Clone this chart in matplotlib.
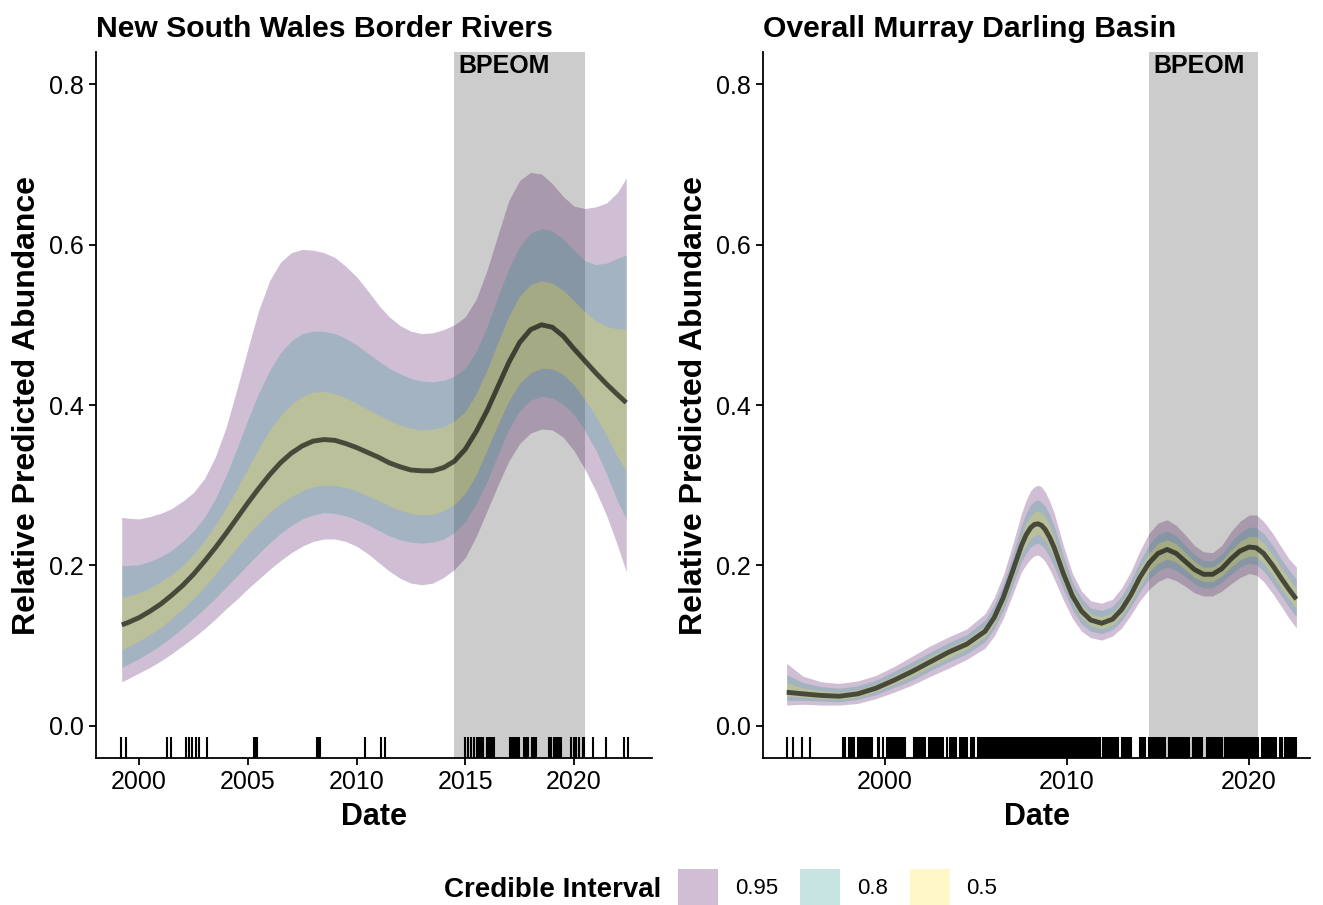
import numpy as np
import matplotlib
matplotlib.use("Agg")
import matplotlib.pyplot as plt
from matplotlib.patches import Patch
from matplotlib.transforms import blended_transform_factory

plt.rcParams['font.family'] = ['Liberation Sans', 'DejaVu Sans']

# -----------------------------
# NEW SOUTH WALES BORDER RIVERS
# -----------------------------
nsw_year = [1999.2, 1999.5, 2000, 2000.5, 2001, 2001.5, 2002, 2002.5, 2003, 2003.5,
            2004, 2004.5, 2005, 2005.5, 2006, 2006.5, 2007, 2007.5, 2008, 2008.5,
            2009, 2009.5, 2010, 2010.5, 2011, 2011.5, 2012, 2012.5, 2013, 2013.5,
            2014, 2014.5, 2015, 2015.5, 2016, 2016.5, 2017, 2017.5, 2018, 2018.5,
            2019, 2019.5, 2020, 2020.5, 2021, 2021.5, 2022, 2022.4]
nsw_med = [.126, .129, .135, .143, .152, .163, .175, .189, .205, .222,
           .240, .259, .278, .296, .313, .328, .340, .349, .355, .357,
           .356, .352, .347, .341, .335, .328, .323, .319, .318, .318,
           .322, .330, .345, .367, .393, .423, .453, .478, .494, .500,
           .497, .486, .470, .455, .440, .426, .413, .403]
nsw_hi95 = [.260, .259, .258, .261, .265, .271, .280, .291, .308, .335,
            .372, .420, .470, .518, .555, .578, .590, .594, .593, .590,
            .584, .573, .560, .543, .525, .510, .499, .492, .489, .490,
            .494, .500, .510, .532, .568, .612, .655, .680, .690, .688,
            .676, .660, .648, .645, .647, .652, .665, .683]
nsw_lo95 = [.055, .059, .066, .073, .081, .090, .100, .110, .121, .133,
            .146, .158, .171, .183, .195, .206, .216, .224, .230, .233,
            .233, .230, .224, .215, .204, .193, .184, .178, .176, .178,
            .185, .195, .210, .236, .268, .300, .330, .352, .365, .370,
            .369, .360, .343, .320, .293, .262, .225, .192]
nsw_hi80 = [.200, .200, .201, .205, .211, .219, .230, .243, .260, .283,
            .312, .346, .382, .415, .443, .465, .480, .489, .492, .492,
            .489, .483, .475, .465, .455, .446, .439, .433, .430, .429,
            .431, .436, .446, .467, .498, .535, .570, .598, .614, .620,
            .617, .607, .593, .580, .575, .577, .583, .587]
nsw_lo80 = [.073, .077, .084, .092, .101, .111, .122, .134, .146, .159,
            .173, .187, .201, .215, .228, .240, .250, .258, .263, .266,
            .265, .262, .257, .251, .244, .237, .232, .229, .228, .229,
            .233, .241, .255, .277, .305, .338, .370, .393, .406, .411,
            .409, .401, .388, .368, .344, .314, .280, .258]
nsw_hi50 = [.160, .162, .166, .172, .180, .189, .200, .214, .231, .250,
            .272, .296, .321, .346, .369, .387, .401, .411, .416, .417,
            .414, .409, .402, .395, .388, .381, .375, .371, .369, .370,
            .373, .380, .392, .414, .444, .478, .511, .536, .550, .555,
            .552, .543, .530, .516, .505, .498, .495, .495]
nsw_lo50 = [.095, .099, .106, .114, .123, .134, .146, .159, .173, .189,
            .206, .222, .238, .253, .266, .277, .286, .293, .298, .300,
            .300, .297, .293, .287, .281, .274, .269, .265, .263, .264,
            .268, .276, .290, .313, .344, .376, .405, .427, .440, .446,
            .445, .438, .425, .407, .386, .362, .335, .318]

# sampling dates (rug)
nsw_samples = [1999.17, 1999.42, 2001.29, 2001.46, 2002.14, 2002.29, 2002.43, 2002.60,
               2002.76, 2003.10, 2005.27, 2005.31, 2005.36, 2005.40, 2008.20, 2008.24,
               2008.29, 2008.33, 2010.37, 2011.12, 2011.29,
               2014.97, 2015.13, 2015.26, 2015.38, 2015.55, 2015.63, 2015.72, 2015.80,
               2016.02, 2016.10, 2016.18, 2016.26, 2016.30, 2017.06, 2017.14, 2017.22,
               2017.31, 2017.39, 2017.47, 2017.72, 2017.80, 2017.88, 2018.06, 2018.14,
               2018.23, 2018.83, 2018.90, 2018.96, 2019.10, 2019.18, 2019.26, 2019.34,
               2019.41, 2019.86, 2019.98, 2020.11, 2020.23, 2020.40, 2020.48,
               2020.85, 2021.45, 2022.29, 2022.46]

# -----------------------------
# OVERALL MURRAY DARLING BASIN
# -----------------------------
mdb_year = [1994.6, 1995.5, 1996.5, 1997.5, 1998.5, 1999.5, 2000.5, 2001.5, 2002.5, 2003.5,
            2004.5, 2005.5, 2006.0, 2006.5, 2007.0, 2007.5, 2007.75, 2008.0, 2008.2, 2008.4,
            2008.6, 2008.8, 2009.05, 2009.3, 2009.8, 2010.3, 2010.8, 2011.3, 2011.9, 2012.5,
            2013.0, 2013.5, 2014.0, 2014.5, 2015.0, 2015.5, 2016.0, 2016.5, 2017.0, 2017.5,
            2018.0, 2018.5, 2019.0, 2019.5, 2020.0, 2020.4, 2020.8, 2021.3, 2021.8, 2022.2,
            2022.6]
mdb_med = [.042, .040, .038, .037, .040, .047, .057, .068, .080, .092,
           .102, .118, .135, .160, .192, .225, .238, .247, .251, .252,
           .250, .245, .235, .222, .190, .162, .143, .132, .128, .133,
           .145, .163, .185, .203, .215, .220, .215, .205, .195, .189,
           .189, .196, .208, .218, .223, .222, .215, .200, .183, .170, .158]
mdb_hi95 = [.078, .062, .055, .053, .056, .063, .074, .087, .100, .111,
            .121, .140, .160, .188, .225, .265, .281, .293, .298, .300,
            .298, .292, .280, .265, .225, .190, .168, .156, .153, .158,
            .172, .192, .218, .240, .253, .257, .250, .238, .225, .217,
            .216, .225, .242, .255, .263, .263, .255, .240, .222, .208, .198]
mdb_lo95 = [.026, .027, .026, .026, .028, .034, .042, .051, .062, .072,
            .083, .097, .112, .134, .163, .192, .201, .208, .212, .213,
            .210, .205, .195, .183, .157, .134, .118, .110, .107, .112,
            .122, .138, .156, .170, .180, .185, .181, .174, .166, .162,
            .162, .168, .177, .185, .190, .188, .180, .165, .148, .134, .122]
mdb_hi80 = [.064, .054, .049, .047, .050, .057, .068, .080, .092, .104,
            .114, .132, .151, .177, .212, .250, .265, .276, .280, .282,
            .279, .274, .263, .249, .212, .179, .159, .147, .144, .149,
            .162, .181, .205, .226, .239, .243, .237, .225, .214, .206,
            .206, .214, .229, .241, .248, .247, .240, .225, .207, .194, .183]
mdb_lo80 = [.032, .032, .031, .030, .033, .039, .048, .057, .069, .080,
            .090, .105, .121, .144, .174, .205, .215, .223, .226, .228,
            .225, .220, .210, .198, .170, .145, .127, .118, .115, .120,
            .131, .148, .167, .183, .193, .198, .194, .186, .177, .172,
            .172, .179, .189, .198, .203, .201, .193, .178, .161, .148, .136]
mdb_hi50 = [.054, .047, .044, .042, .045, .052, .063, .074, .087, .098,
            .108, .125, .143, .169, .203, .238, .252, .262, .266, .268,
            .265, .261, .250, .236, .202, .171, .151, .140, .136, .141,
            .154, .173, .196, .215, .228, .232, .227, .216, .205, .198,
            .198, .206, .219, .230, .236, .236, .228, .213, .196, .183, .171]
mdb_lo50 = [.037, .036, .034, .033, .036, .043, .052, .062, .074, .085,
            .096, .111, .127, .151, .182, .214, .225, .234, .237, .239,
            .236, .232, .221, .209, .179, .153, .135, .125, .121, .126,
            .137, .155, .175, .192, .203, .208, .204, .195, .185, .180,
            .180, .187, .198, .207, .212, .211, .203, .188, .171, .158, .146]

mdb_samples = [
    1994.60, 1994.96, 1995.43, 1995.88,
    1997.7, 1997.8, 1998.0, 1998.1, 1998.2, 1998.3, 1998.5, 1998.6, 1998.7, 1998.8,
    1998.9, 1999.0, 1999.1, 1999.2, 1999.3,
    1999.6, 1999.7, 1999.9, 2000.1, 2000.2, 2000.3, 2000.4, 2000.5, 2000.6, 2000.7,
    2000.8, 2000.9, 2001.0, 2001.1,
    2001.6, 2001.7, 2001.8, 2001.9, 2002.0, 2002.1, 2002.2, 2002.4, 2002.5, 2002.6,
    2002.7, 2002.8, 2002.9, 2003.0, 2003.1, 2003.2,
    2003.4, 2003.6, 2003.7, 2003.8, 2003.9, 2004.1, 2004.2, 2004.3, 2004.4, 2004.5,
    2004.7, 2004.8, 2004.9, 2005.1, 2005.2, 2005.3, 2005.4, 2005.5, 2005.6, 2005.7,
    2005.8, 2005.9,
    2006.0, 2006.1, 2006.2, 2006.3, 2006.4, 2006.5, 2006.6, 2006.7, 2006.8, 2006.9,
    2007.0, 2007.1, 2007.2, 2007.3, 2007.4, 2007.5, 2007.6, 2007.7, 2007.8, 2007.9,
    2008.0, 2008.1, 2008.2, 2008.3, 2008.4, 2008.5, 2008.6, 2008.7, 2008.8, 2008.9,
    2009.0, 2009.1, 2009.2, 2009.3, 2009.4, 2009.5, 2009.6, 2009.7, 2009.8, 2009.9,
    2010.0, 2010.1, 2010.2, 2010.3, 2010.4, 2010.5, 2010.6, 2010.7, 2010.8, 2010.9,
    2011.0, 2011.1, 2011.2, 2011.3, 2011.4, 2011.5, 2011.6, 2011.7, 2011.8,
    2012.0, 2012.1, 2012.2, 2012.3, 2012.4, 2012.5, 2012.6, 2012.7, 2012.8,
    2013.0, 2013.1, 2013.2, 2013.3, 2013.4, 2013.5,
    2014.0, 2014.1, 2014.2, 2014.3,
    2014.5, 2014.6, 2014.7, 2014.8, 2014.9, 2015.0, 2015.1, 2015.2, 2015.3, 2015.4,
    2015.6, 2015.7, 2015.8, 2015.9, 2016.0, 2016.1, 2016.2, 2016.3, 2016.4, 2016.5,
    2016.6, 2016.7,
    2016.9, 2017.0, 2017.1, 2017.2, 2017.3, 2017.4,
    2017.7, 2017.8, 2017.9, 2018.0, 2018.1, 2018.2, 2018.3, 2018.4, 2018.5,
    2018.7, 2018.8, 2018.9, 2019.0, 2019.1, 2019.2, 2019.3, 2019.4, 2019.5, 2019.6,
    2019.7, 2019.8, 2019.9, 2020.0, 2020.1, 2020.2, 2020.3, 2020.4, 2020.5,
    2020.7, 2020.8, 2020.9, 2021.0, 2021.1, 2021.2, 2021.3, 2021.4, 2021.5,
    2021.7, 2021.8,
    2022.0, 2022.1, 2022.2, 2022.3, 2022.4, 2022.5, 2022.6,
]

bpeom = (2014.5, 2020.5)
ci_levels = ['0.95', '0.8', '0.5']
ci_colours = ['#440154', '#21908C', '#FDE725']


def draw_panel(ax, title, year, med, bands, samples, xlim, xticks):
    # BPEOM period
    ax.axvspan(bpeom[0], bpeom[1], color='black', alpha=0.2, lw=0, zorder=0)

    # credible interval ribbons, widest first
    for (lo, hi), col in zip(bands, ci_colours):
        ax.fill_between(year, lo, hi, color=col, alpha=0.25, lw=0, zorder=1)

    ax.plot(year, med, color='black', alpha=0.62, lw=3.5, zorder=2,
            solid_capstyle='butt', solid_joinstyle='round')

    # rug of sampling dates along the bottom
    trans = blended_transform_factory(ax.transData, ax.transAxes)
    ax.vlines(samples, 0, 0.03, transform=trans, color='black', lw=1.5, zorder=3)

    ax.annotate('BPEOM', xy=(bpeom[0], 1), xycoords=('data', 'axes fraction'),
                xytext=(3, -1.3), textcoords='offset points', ha='left', va='top',
                fontsize=18, fontweight='bold', zorder=4)

    ax.set_xlim(*xlim)
    ax.set_ylim(-0.04, 0.84)
    ax.set_xticks(xticks)
    ax.set_yticks([0.0, 0.2, 0.4, 0.6, 0.8])
    ax.set_yticklabels(['0.0', '0.2', '0.4', '0.6', '0.8'])

    for s in ['top', 'right']:
        ax.spines[s].set_visible(False)
    for s in ['left', 'bottom']:
        ax.spines[s].set_linewidth(1.3)
    ax.tick_params(direction='out', length=5, width=1.3, labelsize=18, pad=3.5,
                   colors='black')

    ax.set_title(title, loc='left', fontsize=21.7, fontweight='bold', pad=11)
    ax.set_xlabel('Date', fontsize=22, fontweight='bold', labelpad=6)
    ax.set_ylabel('Relative Predicted Abundance', fontsize=23, fontweight='bold',
                  labelpad=5)


fig = plt.figure(figsize=(13.23, 9.05), dpi=100)

ax1 = fig.add_axes([0.0726, 0.1624, 0.4203, 0.7801])
ax2 = fig.add_axes([0.5767, 0.1624, 0.4135, 0.7801])

draw_panel(ax1, 'New South Wales Border Rivers', nsw_year, nsw_med,
           [(nsw_lo95, nsw_hi95), (nsw_lo80, nsw_hi80), (nsw_lo50, nsw_hi50)],
           nsw_samples, (1998.02, 2023.59), [2000, 2005, 2010, 2015, 2020])

draw_panel(ax2, 'Overall Murray Darling Basin', mdb_year, mdb_med,
           [(mdb_lo95, mdb_hi95), (mdb_lo80, mdb_hi80), (mdb_lo50, mdb_hi50)],
           mdb_samples, (1993.30, 2023.35), [2000, 2010, 2020])

# -----------------------------
# LEGEND
# -----------------------------
fig.text(444 / 1323, 1 - 890 / 905, 'Credible Interval', fontsize=20,
         fontweight='bold', ha='left', va='center')
handles = [Patch(facecolor=c, alpha=0.25, edgecolor='none') for c in ci_colours]
fig.legend(handles, ci_levels, loc='center left',
           bbox_to_anchor=(678 / 1323, 1 - 887 / 905), ncol=3, frameon=False,
           fontsize=16, handlelength=1.8, handleheight=2.05, handletextpad=0.75,
           columnspacing=1.0, borderpad=0, borderaxespad=0)

fig.savefig('out.png', dpi=100)
